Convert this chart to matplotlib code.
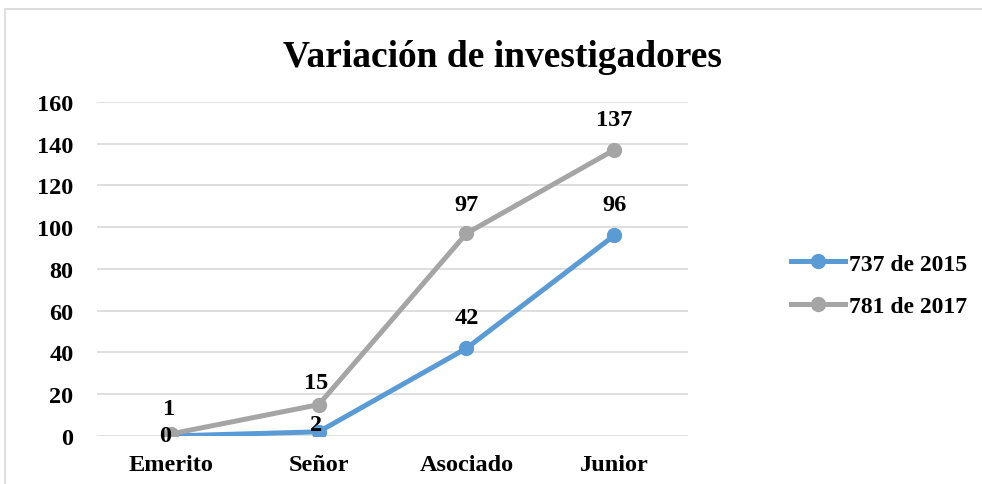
import matplotlib.pyplot as plt
from matplotlib.patches import Rectangle

categorias = ['Emerito', 'Señor', 'Asociado', 'Junior']
serie_2015 = [0, 2, 42, 96]
serie_2017 = [1, 15, 97, 137]
nombres = ['737 de 2015', '781 de 2017']
yticks = [0, 20, 40, 60, 80, 100, 120, 140, 160]

plt.rcParams['font.family'] = ['Liberation Serif', 'DejaVu Serif']
plt.rcParams['font.weight'] = 'bold'

azul = '#5B9BD5'
gris = '#A5A5A5'

fig = plt.figure(figsize=(9.82, 4.85), dpi=100)
ax = fig.add_axes([0.0988, 0.099, 0.602, 0.689])

x = range(len(categorias))
ax.plot(x, serie_2015, '-o', color=azul, lw=3.6, ms=10, label=nombres[0], zorder=3)
ax.plot(x, serie_2017, '-o', color=gris, lw=3.6, ms=10, label=nombres[1], zorder=4)

# desplazamientos de las etiquetas en puntos
off_2015 = [(-4, 0), (-2, 5), (0, 22), (0, 22)]
off_2017 = [(-1, 18), (-2, 16), (0, 21), (0, 22)]
for i, v in enumerate(serie_2015):
    ax.annotate(str(v), (i, v), xytext=off_2015[i], textcoords='offset points',
                ha='center', va='center', fontsize=17.5, fontweight='bold', zorder=6)
for i, v in enumerate(serie_2017):
    ax.annotate(str(v), (i, v), xytext=off_2017[i], textcoords='offset points',
                ha='center', va='center', fontsize=17.5, fontweight='bold', zorder=6)

ax.set_xlim(-0.5, len(categorias) - 0.5)
ax.set_ylim(0, 160)
ax.set_yticks(yticks)
ax.set_xticks(list(x))
ax.set_xticklabels(categorias)
ax.tick_params(length=0, labelsize=17.5)
ax.tick_params(axis='x', pad=13)
ax.tick_params(axis='y', pad=17)
ax.grid(axis='y', color='#D9D9D9', lw=1.2)
ax.set_axisbelow(True)
for s in ax.spines.values():
    s.set_visible(False)

fig.text(0.512, 0.882, 'Variación de investigadores', ha='center', va='center',
         fontsize=27, fontweight='bold')

leg = fig.legend(loc='center left', bbox_to_anchor=(0.784, 0.41), frameon=False,
                 fontsize=17, handlelength=2.3, handletextpad=0.15, labelspacing=0.9)

fig.patches.append(Rectangle((0.005, -0.1), 1.1, 1.08, transform=fig.transFigure,
                             fill=False, edgecolor='#D9D9D9', lw=1.2))

fig.savefig('out.png', dpi=100)
